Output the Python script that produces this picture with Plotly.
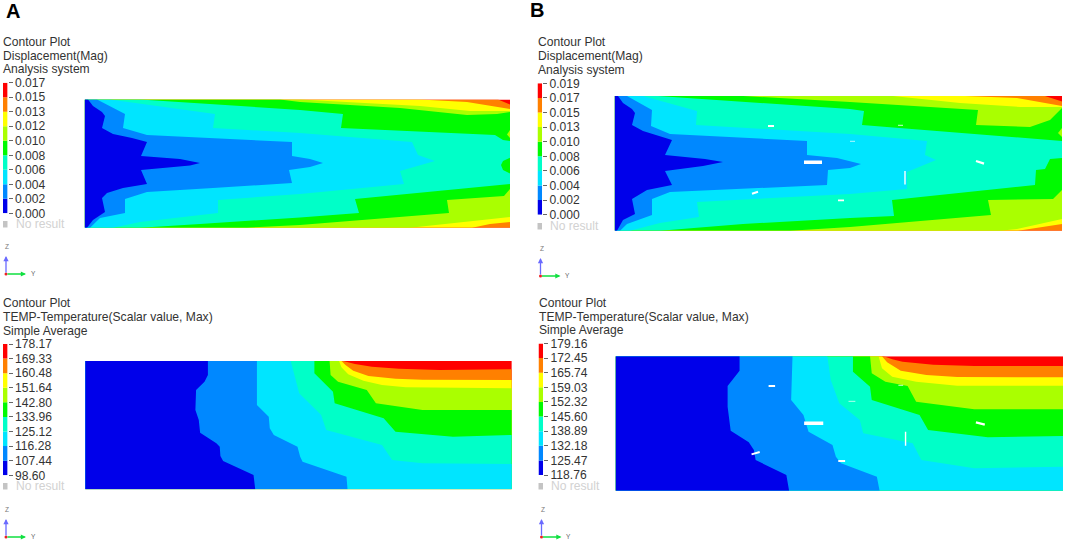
import plotly.graph_objects as go

W, H = 1065, 542

# ---- shared palette, low to high ----
band_names = ["blue", "azure", "cyan", "teal", "green", "lime", "yellow", "orange", "red"]
band_colors = ["#0000ea", "#0088ff", "#00e5ff", "#00ffc8", "#00fa00", "#aaff00", "#ffff00", "#ff8000", "#ff0000"]

# ---- tick labels ----
ticks_disp_a = ["0.000", "0.002", "0.004", "0.006", "0.008", "0.010", "0.012", "0.013", "0.015", "0.017"]
ticks_disp_b = ["0.000", "0.002", "0.004", "0.006", "0.008", "0.010", "0.013", "0.015", "0.017", "0.019"]
ticks_temp_a = ["98.60", "107.44", "116.28", "125.12", "133.96", "142.80", "151.64", "160.48", "169.33", "178.17"]
ticks_temp_b = ["118.76", "125.47", "132.18", "138.89", "145.60", "152.32", "159.03", "165.74", "172.45", "179.16"]

titles_disp = ["Contour Plot", "Displacement(Mag)", "Analysis system"]
titles_temp = ["Contour Plot", "TEMP-Temperature(Scalar value, Max)", "Simple Average"]

# ---- panel A, displacement: iso-regions (plot units) ----
adisp_orange = [(84.7,99.5),(498,99.5),(510,104.5),(510,227.7),(84.7,227.7)]
adisp_yellow = [(84.7,99.5),(420,99.5),(467,102),(510,109),(510,222),(490,224),(472,227.7),(84.7,227.7)]
adisp_lime = [(84.7,99.5),(300,99.5),(420,106),(470,111),(510,111),(510,217),(473,221),(410,227.7),(84.7,227.7)]
adisp_green = [(84.7,99.5),(280,99.5),(300,102),(400,108),(467,115),(497,114),(510,112),(510,189),(504,196),(447,200),(449,213),(300,225),(247,227.7),(84.7,227.7)]
adisp_lime_spot = [(510,130),(507,134.5),(510,138)]
adisp_teal = [(84.7,99.5),(140,99.5),(300,110),(343,114),(341,128),(495,135),(503,140),(510,141),(510,184),(355,199),(359,213),(300,217.5),(200,224),(140,227.7),(84.7,227.7)]
adisp_green_spot = [(510,157.7),(503,161),(501,165),(503,170),(510,173.5)]
adisp_cyan = [(84.7,99.5),(110,99.5),(215,114),(213,128),(300,133),(412,142),(418,155),(435,161),(400,171),(404,184),(300,194),(218,200),(218,213),(140,222),(113,227.7),(84.7,227.7)]
adisp_azure = [(84.7,99.5),(97,99.5),(125,114),(123,128),(147,135),(213,138),(292,142),(292,156),(310,159),(323,163),(310,167),(289,170),(292,183),(213,188),(147,192),(125,199),(125,213),(100,218),(90,227.7),(84.7,227.7)]
adisp_blue = [(84.7,99.5),(88,99.5),(93,106),(102,112),(105,116),(102,128),(113,134),(132,138),(147,142),(141,156),(180,159),(192,161),(200,163),(190,165.5),(141,170),(147,184),(123,188),(107,193),(102,198),(105,212),(93,220),(87,227.7),(84.7,227.7)]

# ---- panel B, displacement ----
bdisp_orange = [(614.7,96),(1045,96),(1062,101.5),(1062,230.7),(614.7,230.7)]
bdisp_yellow = [(614.7,96),(965,96),(1017,98),(1062,106),(1062,224),(1018,230.7),(614.7,230.7)]
bdisp_lime = [(614.7,96),(893,96),(960,103),(1020,107),(1062,107),(1062,219),(1017,229),(1000,230.7),(614.7,230.7)]
bdisp_green = [(614.7,96),(743,96),(850,102),(978,110),(976,125),(1030,127),(1050,120),(1062,108),(1062,190),(1053,199),(988,200),(991,215),(850,227),(790,230.7),(614.7,230.7)]
bdisp_lime_spot = [(1062,128),(1058,133),(1062,137)]
bdisp_teal = [(614.7,96),(658,96),(850,109),(864,111),(862,125),(1050,140),(1062,141),(1062,158),(1050,159),(1045,169),(1036,170),(1035,185),(892,200),(894,216),(850,218),(743,224),(660,230.7),(614.7,230.7)]
bdisp_cyan = [(614.7,96),(643,96),(697,111),(696,125),(850,134),(927,141),(925,155),(936,160),(907,172),(907,189),(850,194),(697,202),(699,217),(660,223),(630,230.7),(614.7,230.7)]
bdisp_azure = [(614.7,96),(627,96),(652,110),(651,126),(670,134),(807,141),(807,155),(837,158),(861,164),(850,168),(828,170),(827,185),(670,192),(652,199),(652,215),(627,224),(620,230.7),(614.7,230.7)]
bdisp_blue = [(614.7,96),(618,96),(623,103),(632,109),(635,113),(632,125),(643,131),(672,140),(665,155),(705,159),(723,162),(703,166),(665,171),(672,185),(647,190),(632,199),(635,214),(623,220),(617,230.7),(614.7,230.7)]
bdisp_holes = [[(768,126),(774,126)],[(804,162.3),(822,162.3)],[(752,193.7),(758,191.7)],[(838,200.3),(844,200.3)],[(898,125.3),(903,125.3)],[(976,161),(984,163.6)],[(905,171),(905,184.5)],[(850,141.3),(855,141.3)]]
bdisp_hole_sizes = [1.8, 3.5, 2, 1.8, 0.8, 2.2, 1.4, 0.7]

# ---- panel A, temperature: each list runs from the top edge to the bottom or right edge ----
atemp_x0, atemp_x1, atemp_y0, atemp_y1 = 252, 1514, 243, 628
atemp_red_edge = [(1015,243),(1050,252),(1100,260),(1180,266),(1300,270),(1514,268)]
atemp_yellow_edge = [(1010,243),(1022,255),(1045,272),(1090,288),(1170,296),(1250,299),(1514,300)]
atemp_lime_edge = [(1003,243),(1010,262),(1030,283),(1075,302),(1130,315),(1200,322),(1514,325)]
atemp_green_edge = [(975,243),(978,285),(1000,305),(1085,330),(1112,370),(1250,390),(1514,390)]
atemp_teal_edge = [(930,243),(930,280),(985,335),(990,370),(1135,415),(1170,455),(1340,470),(1514,465)]
atemp_cyan_edge = [(860,243),(880,320),(885,340),(950,405),(965,450),(1130,495),(1160,540),(1250,550),(1514,552)]
atemp_azure_edge = [(760,243),(760,375),(795,410),(798,445),(810,465),(880,500),(888,530),(895,545),(1025,590),(1028,628)]
atemp_blue_edge = [(615,243),(615,285),(605,305),(580,330),(578,390),(588,420),(592,458),(640,490),(650,500),(652,528),(660,543),(750,585),(752,605),(755,628)]

# ---- panel B, temperature ----
btemp_x0, btemp_x1, btemp_y0, btemp_y1 = 250, 1560, 229, 632
btemp_red_edge = [(1035,229),(1060,238),(1090,245),(1180,254),(1300,258),(1560,258)]
btemp_yellow_edge = [(1030,229),(1045,247),(1085,272),(1160,285),(1250,291),(1560,292)]
btemp_lime_edge = [(1020,229),(1030,265),(1060,290),(1130,305),(1250,317),(1560,317)]
btemp_green_edge = [(995,229),(1000,280),(1040,305),(1105,318),(1130,365),(1300,388),(1560,388)]
btemp_teal_edge = [(945,229),(945,275),(995,320),(1000,360),(1140,405),(1165,450),(1340,472),(1560,468)]
btemp_cyan_edge = [(870,229),(880,300),(905,370),(965,420),(975,460),(1120,490),(1145,540),(1300,565),(1560,560)]
btemp_azure_edge = [(768,229),(764,360),(800,405),(815,455),(885,495),(895,530),(910,550),(1015,590),(1023,632)]
btemp_blue_edge = [(613,229),(613,272),(578,318),(578,380),(587,452),(640,487),(655,510),(660,540),(750,585),(758,632)]
btemp_holes = [[(698,318),(717,318)],[(802,430),(858,430)],[(648,523),(672,516)],[(902,543),(922,543)],[(1305,427),(1331,434)],[(1099,455),(1099,497)],[(1078,316),(1092,316)],[(932,364),(952,364)]]
btemp_hole_sizes = [1.8, 3.5, 2, 1.8, 2.2, 1.4, 0.8, 0.7]

# ---- panel rectangles in figure pixels: left, right, top, bottom ----
rect_a_disp = (84.7, 510, 99.5, 227.7)
rect_b_disp = (614.7, 1062, 96, 230.7)
rect_a_temp = (85.2, 511.8, 361, 489.3)
rect_b_temp = (615.6, 1063, 356.3, 490.7)

TXT = 12.1
fig = go.Figure()
layout_axes = {}
annotations = []
shapes = []
axis_counter = [0]


def color(name):
    return band_colors[band_names.index(name)]


def new_axes(left, right, top, bottom, xr, yr):
    axis_counter[0] += 1
    n = axis_counter[0]
    sfx = "" if n == 1 else str(n)
    layout_axes["xaxis" + sfx] = dict(domain=[left / W, right / W], range=list(xr), visible=False,
                                      anchor="y" + sfx, fixedrange=True)
    layout_axes["yaxis" + sfx] = dict(domain=[1 - bottom / H, 1 - top / H], range=list(yr), visible=False,
                                      anchor="x" + sfx, fixedrange=True)
    return "x" + sfx, "y" + sfx


def poly(pts, name, xa, ya):
    xs = [p[0] for p in pts] + [pts[0][0]]
    ys = [p[1] for p in pts] + [pts[0][1]]
    fig.add_trace(go.Scatter(x=xs, y=ys, xaxis=xa, yaxis=ya, mode="lines", fill="toself",
                             fillcolor=color(name), line=dict(width=0), hoverinfo="skip", showlegend=False))


def holes(segs, sizes, xa, ya):
    for s, w in zip(segs, sizes):
        fig.add_trace(go.Scatter(x=[p[0] for p in s], y=[p[1] for p in s], xaxis=xa, yaxis=ya, mode="lines",
                                 line=dict(color="white", width=w), hoverinfo="skip", showlegend=False))


def px_text(x, y, text, size=TXT, col="#333333", bold=False, anchor="left"):
    annotations.append(dict(x=x / W, y=1 - y / H, xref="paper", yref="paper", text=("<b>%s</b>" % text) if bold else text,
                            showarrow=False, xanchor=anchor, yanchor="middle", xshift=-2 if anchor == "left" else 0,
                            font=dict(family="Liberation Sans", size=size, color=col)))


def decorations(x0, title_ys, titles, tick_top, tick_bottom, ticks, noresult_y, z_y, triad_y):
    for yy, t in zip(title_ys, titles):
        px_text(x0, yy, t)
    xa, ya = new_axes(x0, x0 + 4.6, tick_top, tick_bottom, (0, 1), (0, 9))
    layout_axes[ya.replace("y", "yaxis")].update(
        visible=True, side="right", tickmode="array", tickvals=list(range(10)), ticktext=ticks,
        ticks="outside", ticklen=4, tickwidth=1, tickcolor="#666666", showgrid=False, zeroline=False,
        showline=False, ticklabelstandoff=0, tickfont=dict(family="Liberation Sans", size=TXT, color="#333333"))
    fig.add_trace(go.Bar(x=[0.5] * 9, y=[1] * 9, base=list(range(9)), width=1, marker=dict(color=band_colors, line=dict(width=0)),
                         xaxis=xa, yaxis=ya, hoverinfo="skip", showlegend=False))
    shapes.append(dict(type="rect", xref="paper", yref="paper", x0=x0 / W, x1=(x0 + 4.5) / W,
                       y0=1 - (noresult_y + 3.5) / H, y1=1 - (noresult_y - 3) / H, fillcolor="#c4c4c4", line=dict(width=0)))
    px_text(x0 + 12.5, noresult_y, "No result", col="#d2d2d2")
    px_text(x0 + 4, z_y, "Z", size=6.5, col="#777777", anchor="center")
    px_text(x0 + 30, triad_y - 0.5, "Y", size=6.5, col="#666666", anchor="center")
    for (dx, dy, c) in ((0, -18, "#6a6aff"), (20, 0, "#10e040")):
        annotations.append(dict(x=(x0 + 3 + dx) / W, y=1 - (triad_y + dy) / H, xref="paper", yref="paper",
                                ax=-dx, ay=-dy, axref="pixel", ayref="pixel", text="", showarrow=True,
                                arrowhead=2, arrowsize=0.8, arrowwidth=1.3, arrowcolor=c))
    shapes.append(dict(type="circle", xref="paper", yref="paper", x0=(x0 + 1.5) / W, x1=(x0 + 4.5) / W,
                       y0=1 - (triad_y + 1.5) / H, y1=1 - (triad_y - 1.5) / H, fillcolor="#ee2222", line=dict(width=0)))


def below_edge(edge, x0, y0, y1):
    pts = [(x0, y0)] + list(edge)
    if edge[-1][1] < y1:
        pts.append((edge[-1][0], y1))
    pts.append((x0, y1))
    return pts


# --- panel A, top ---
l, r, t, b = rect_a_disp
xa, ya = new_axes(l, r, t, b, (l, r), (b, t))
poly([(l, t), (r, t), (r, b), (l, b)], "red", xa, ya)
for pts, nm in ((adisp_orange, "orange"), (adisp_yellow, "yellow"), (adisp_lime, "lime"), (adisp_green, "green"),
                (adisp_lime_spot, "lime"), (adisp_teal, "teal"), (adisp_green_spot, "green"), (adisp_cyan, "cyan"),
                (adisp_azure, "azure"), (adisp_blue, "blue")):
    poly(pts, nm, xa, ya)
decorations(3, [41.7, 55.5, 69.5], titles_disp, 82.7, 213.3, ticks_disp_a, 224, 247, 274)

# --- panel B, top ---
l, r, t, b = rect_b_disp
xa, ya = new_axes(l, r, t, b, (l, r), (b, t))
poly([(l, t), (r, t), (r, b), (l, b)], "red", xa, ya)
for pts, nm in ((bdisp_orange, "orange"), (bdisp_yellow, "yellow"), (bdisp_lime, "lime"), (bdisp_green, "green"),
                (bdisp_lime_spot, "lime"), (bdisp_teal, "teal"), (bdisp_cyan, "cyan"),
                (bdisp_azure, "azure"), (bdisp_blue, "blue")):
    poly(pts, nm, xa, ya)
holes(bdisp_holes, bdisp_hole_sizes, xa, ya)
decorations(537.5, [42, 56, 70], titles_disp, 83.3, 214.7, ticks_disp_b, 226, 248, 276)

# --- panel A, bottom ---
l, r, t, b = rect_a_temp
xa, ya = new_axes(l, r, t, b, (atemp_x0, atemp_x1), (atemp_y1, atemp_y0))
poly([(atemp_x0, atemp_y0), (atemp_x1, atemp_y0), (atemp_x1, atemp_y1), (atemp_x0, atemp_y1)], "red", xa, ya)
for edge, nm in ((atemp_red_edge, "orange"), (atemp_yellow_edge, "yellow"), (atemp_lime_edge, "lime"),
                 (atemp_green_edge, "green"), (atemp_teal_edge, "teal"), (atemp_cyan_edge, "cyan"),
                 (atemp_azure_edge, "azure"), (atemp_blue_edge, "blue")):
    poly(below_edge(edge, atemp_x0, atemp_y0, atemp_y1), nm, xa, ya)
decorations(3, [303.3, 317, 331], titles_temp, 344, 475.3, ticks_temp_a, 486, 509, 537)

# --- panel B, bottom ---
l, r, t, b = rect_b_temp
xa, ya = new_axes(l, r, t, b, (btemp_x0, btemp_x1), (btemp_y1, btemp_y0))
poly([(btemp_x0, btemp_y0), (btemp_x1, btemp_y0), (btemp_x1, btemp_y1), (btemp_x0, btemp_y1)], "red", xa, ya)
for edge, nm in ((btemp_red_edge, "orange"), (btemp_yellow_edge, "yellow"), (btemp_lime_edge, "lime"),
                 (btemp_green_edge, "green"), (btemp_teal_edge, "teal"), (btemp_cyan_edge, "cyan"),
                 (btemp_azure_edge, "azure"), (btemp_blue_edge, "blue")):
    poly(below_edge(edge, btemp_x0, btemp_y0, btemp_y1), nm, xa, ya)
holes(btemp_holes, btemp_hole_sizes, xa, ya)
decorations(538.5, [303, 316.5, 330], titles_temp, 343.5, 475, ticks_temp_b, 486, 509, 537)

# panel letters
px_text(6, 11, "A", size=20, col="#000000", bold=True)
px_text(530, 10, "B", size=20, col="#000000", bold=True)

fig.update_layout(width=W, height=H, margin=dict(l=0, r=0, t=0, b=0, autoexpand=False), paper_bgcolor="white", plot_bgcolor="white",
                  showlegend=False, barmode="overlay", annotations=annotations, shapes=shapes, **layout_axes)
fig.write_html("out.html", config={"displayModeBar": False},
               post_script="document.body.style.margin='0';document.body.style.overflow='hidden';")
